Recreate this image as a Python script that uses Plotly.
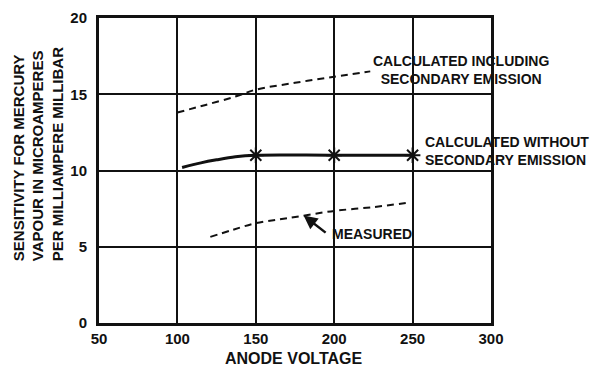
import plotly.graph_objects as go

# Sensitivity (microamperes per milliampere millibar) vs anode voltage
volt_incl = [100, 118, 137, 150, 175, 200, 223]
sens_incl = [13.8, 14.3, 14.85, 15.3, 15.75, 16.15, 16.5]

volt_calc = [103, 115, 125, 137, 150, 200, 250]
sens_calc = [10.2, 10.5, 10.7, 10.9, 11.0, 11.0, 11.0]

cross_volt = [150, 200, 250]
cross_sens = [11.0, 11.0, 11.0]

volt_meas = [121, 135, 150, 165, 178, 200, 225, 248]
sens_meas = [5.65, 6.1, 6.55, 6.8, 7.0, 7.35, 7.6, 7.9]

x_ticks = [50, 100, 150, 200, 250, 300]
y_ticks = [0, 5, 10, 15, 20]

INK = "#111111"
FONT = "Liberation Sans"

fig = go.Figure()

fig.add_trace(go.Scatter(
    x=volt_incl, y=sens_incl, mode="lines",
    line=dict(color=INK, width=2, dash="7px,5px", shape="spline"),
    hoverinfo="skip", showlegend=False))

fig.add_trace(go.Scatter(
    x=volt_calc, y=sens_calc, mode="lines",
    line=dict(color=INK, width=3, shape="spline"),
    hoverinfo="skip", showlegend=False))

fig.add_trace(go.Scatter(
    x=cross_volt, y=cross_sens, mode="markers",
    marker=dict(symbol="asterisk-open", size=13, color=INK,
                line=dict(color=INK, width=2)),
    hoverinfo="skip", showlegend=False))

fig.add_trace(go.Scatter(
    x=volt_meas, y=sens_meas, mode="lines",
    line=dict(color=INK, width=2, dash="7px,5px", shape="spline"),
    hoverinfo="skip", showlegend=False))

label_font = dict(family=FONT, size=14, color=INK)

fig.add_annotation(x=281, y=16.6, xref="x", yref="y",
                   text="<b>CALCULATED INCLUDING<br>SECONDARY EMISSION</b>",
                   showarrow=False, xanchor="center", yanchor="middle",
                   align="center", font=label_font)
fig.add_annotation(x=256.5, y=11.25, xref="x", yref="y",
                   text="<b>CALCULATED WITHOUT<br>SECONDARY EMISSION</b>",
                   showarrow=False, xanchor="left", yanchor="middle",
                   align="left", font=label_font)
fig.add_annotation(x=197.3, y=5.82, xref="x", yref="y",
                   text="<b>MEASURED</b>",
                   showarrow=False, xanchor="left", yanchor="middle",
                   font=label_font)
# arrow pointing from the label to the measured curve
fig.add_annotation(x=180.5, y=7.05, xref="x", yref="y",
                   ax=195.5, ay=5.85, axref="x", ayref="y",
                   text="", showarrow=True, arrowhead=2, arrowsize=1.1,
                   arrowwidth=2.5, arrowcolor=INK, standoff=0, startstandoff=0)

# axis titles
fig.add_annotation(x=-0.157, y=0.555, xref="paper", yref="paper",
                   text="<b>SENSITIVITY FOR MERCURY<br>VAPOUR IN MICROAMPERES<br>PER MILLIAMPERE MILLIBAR</b>",
                   textangle=-90, showarrow=False, xanchor="center", yanchor="middle",
                   align="left", font=dict(family=FONT, size=15, color=INK))
fig.add_annotation(x=0.497, y=-0.115, xref="paper", yref="paper",
                   text="<b>ANODE VOLTAGE</b>",
                   showarrow=False, xanchor="center", yanchor="middle",
                   font=dict(family=FONT, size=16, color=INK))

axis_common = dict(
    showline=True, mirror=True, linewidth=3, linecolor=INK,
    showgrid=True, gridcolor=INK, gridwidth=2,
    zeroline=False, ticks="", fixedrange=True,
    tickfont=dict(family=FONT, size=15, color=INK),
)

fig.update_xaxes(range=[50, 300], tickvals=x_ticks,
                 ticktext=[f"<b>{v}</b>" for v in x_ticks],
                 ticklabelstandoff=0, **axis_common)
fig.update_yaxes(range=[0, 20], tickvals=y_ticks,
                 ticktext=[f"<b>{v}</b>" for v in y_ticks],
                 ticklabelstandoff=6, **axis_common)

fig.update_layout(
    width=601, height=367,
    margin=dict(l=99, r=110, t=9, b=44),
    paper_bgcolor="white", plot_bgcolor="white",
    showlegend=False,
)

fig.write_html("out.html")
